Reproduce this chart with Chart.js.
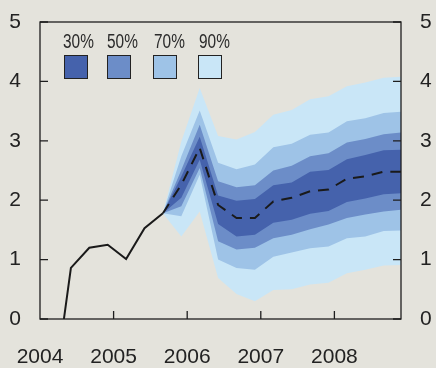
<!DOCTYPE html>
<html>
<head>
<meta charset="utf-8">
<script src="https://cdn.jsdelivr.net/npm/chart.js@4.4.0/dist/chart.umd.min.js"></script>
<style>
  html, body { margin: 0; padding: 0; background: #e4e3dc; }
  #wrap { position: relative; width: 436px; height: 368px; }
  canvas { display: block; }
  .lg-txt { position: absolute; top: 32px; font: 19.5px 'Liberation Sans', Arial, sans-serif; line-height: 19.5px; color: #2b2b2b; white-space: nowrap; transform: scaleX(0.79); transform-origin: 0 0; }
  .lg-box { position: absolute; top: 55px; width: 24px; height: 24px; box-sizing: border-box; border: 1px solid #222; }
</style>
</head>
<body>
<div id="wrap">
  <canvas id="fanChart" width="436" height="368"></canvas>
  <div id="legend"></div>
</div>
<script>
// history, quarterly
const histYears = [2004.17, 2004.42, 2004.67, 2004.92, 2005.17, 2005.42, 2005.67];
const histValues = [-1.4, 0.86, 1.20, 1.25, 1.01, 1.53, 1.78];

// forecast quarters
const fcYears = [2005.67, 2005.92, 2006.17, 2006.42, 2006.67, 2006.92, 2007.17,
                 2007.42, 2007.67, 2007.92, 2008.17, 2008.42, 2008.67, 2008.92];
const median  = [1.78, 2.26, 2.88, 1.92, 1.70, 1.70, 1.98, 2.04, 2.15, 2.18, 2.36, 2.40, 2.48, 2.48];

const upper90 = [1.78, 2.99, 3.89, 3.08, 3.02, 3.15, 3.44, 3.52, 3.70, 3.75, 3.92, 3.98, 4.06, 4.08];
const upper70 = [1.78, 2.74, 3.51, 2.63, 2.52, 2.60, 2.89, 2.95, 3.10, 3.14, 3.33, 3.38, 3.47, 3.49];
const upper50 = [1.78, 2.51, 3.27, 2.32, 2.22, 2.25, 2.50, 2.58, 2.74, 2.79, 2.97, 3.03, 3.11, 3.14];
const upper30 = [1.78, 2.40, 3.07, 2.08, 1.99, 2.02, 2.25, 2.30, 2.48, 2.51, 2.69, 2.76, 2.84, 2.85];
const lower30 = [1.78, 2.04, 2.68, 1.60, 1.39, 1.42, 1.62, 1.67, 1.77, 1.82, 1.97, 2.03, 2.10, 2.12];
const lower50 = [1.78, 1.90, 2.54, 1.31, 1.17, 1.20, 1.36, 1.42, 1.51, 1.59, 1.70, 1.76, 1.81, 1.84];
const lower70 = [1.78, 1.73, 2.43, 1.00, 0.86, 0.83, 1.05, 1.12, 1.19, 1.22, 1.36, 1.39, 1.48, 1.49];
const lower90 = [1.78, 1.39, 1.81, 0.69, 0.42, 0.30, 0.49, 0.50, 0.58, 0.61, 0.77, 0.83, 0.90, 0.91];

const bandLabels = ['30%', '50%', '70%', '90%'];
const bandColors = ['#4562ac', '#6c8dc8', '#9ec3e7', '#c9e6f7'];
const xTicks = [2004, 2005, 2006, 2007, 2008];
const yTicks = [0, 1, 2, 3, 4, 5];

const FONT = "'Liberation Sans', Arial, sans-serif";

function pts(xs, ys) {
    return xs.map((x, i) => ({ x: x, y: ys[i] }));
}

function band(upper, lower, color, ord) {
    return [
        { data: pts(fcYears, upper), fill: '+1', backgroundColor: color, borderWidth: 0, pointRadius: 0, order: ord },
        { data: pts(fcYears, lower), fill: false, borderWidth: 0, pointRadius: 0, order: ord }
    ];
}

// khung + vach chia huong vao trong
const frameTicks = {
    id: 'frameTicks',
    afterDraw(chart) {
        const { ctx, chartArea: a, scales } = chart;
        ctx.save();
        ctx.strokeStyle = '#1e1e1e';
        ctx.lineWidth = 1.3;
        ctx.strokeRect(a.left, a.top, a.right - a.left, a.bottom - a.top);
        ctx.beginPath();
        yTicks.forEach(v => {
            const y = scales.y.getPixelForValue(v);
            ctx.moveTo(a.left, y); ctx.lineTo(a.left + 8, y);
            ctx.moveTo(a.right, y); ctx.lineTo(a.right - 8, y);
        });
        xTicks.slice(1).forEach(v => {
            const x = scales.x.getPixelForValue(v);
            ctx.moveTo(x, a.bottom); ctx.lineTo(x, a.bottom - 8);
        });
        ctx.stroke();
        ctx.restore();
    }
};

// bo phan dem tu dong de vung ve dung kich thuoc
function noPad(s) {
    s.paddingLeft = 0; s.paddingRight = 0; s.paddingTop = 0; s.paddingBottom = 0;
}

const yAxis = (pos, w) => ({
    type: 'linear',
    position: pos,
    min: 0,
    max: 5,
    grid: { display: false, drawTicks: false },
    border: { display: false },
    ticks: { stepSize: 1, padding: 19, color: '#222', font: { family: FONT, size: 21 } },
    afterFit: s => { s.width = w; noPad(s); }
});

new Chart(document.getElementById('fanChart').getContext('2d'), {
    type: 'line',
    data: {
        datasets: [
            { data: pts(fcYears, median), borderColor: '#1a1a1a', borderWidth: 2, borderDash: [11, 8], pointRadius: 0, fill: false, order: 0 },
            { data: pts(histYears, histValues), borderColor: '#1a1a1a', borderWidth: 2, pointRadius: 0, fill: false, order: 0 },
            ...band(upper30, lower30, bandColors[0], 1),
            ...band(upper50, lower50, bandColors[1], 2),
            ...band(upper70, lower70, bandColors[2], 3),
            ...band(upper90, lower90, bandColors[3], 4)
        ]
    },
    options: {
        responsive: false,
        animation: false,
        devicePixelRatio: 1,
        layout: { padding: { top: 22, left: 0, right: 0, bottom: 0 } },
        plugins: { legend: { display: false }, tooltip: { enabled: false } },
        elements: { line: { tension: 0 } },
        scales: {
            x: {
                type: 'linear',
                min: 2004,
                max: 2008.905,
                grid: { display: false, drawTicks: false },
                border: { display: false },
                ticks: {
                    padding: 26, color: '#222', maxRotation: 0, autoSkip: false,
                    font: { family: FONT, size: 21 },
                    callback: v => String(v)
                },
                afterBuildTicks: s => { s.ticks = xTicks.map(v => ({ value: v })); },
                afterFit: s => { s.height = 49; noPad(s); }
            },
            y: yAxis('left', 40),
            y2: yAxis('right', 35)
        }
    },
    plugins: [frameTicks]
});

// chu giai: nhan o tren, o mau o duoi
const boxLeft = [64, 107, 153, 198];
const txtLeft = [63, 107, 154, 199];
const legendEl = document.getElementById('legend');
bandLabels.forEach((lab, i) => {
    const t = document.createElement('div');
    t.className = 'lg-txt';
    t.style.left = txtLeft[i] + 'px';
    t.textContent = lab;
    legendEl.appendChild(t);
    const b = document.createElement('div');
    b.className = 'lg-box';
    b.style.left = boxLeft[i] + 'px';
    b.style.background = bandColors[i];
    legendEl.appendChild(b);
});
</script>
</body>
</html>
